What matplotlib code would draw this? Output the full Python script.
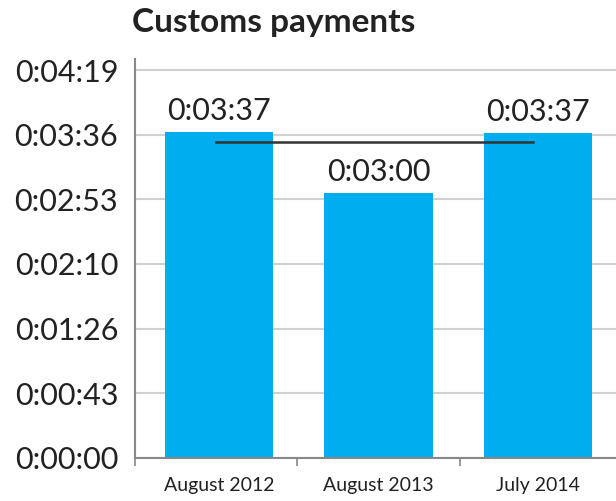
import matplotlib.pyplot as plt
from matplotlib.ticker import FuncFormatter, MultipleLocator

# data (seconds)
categories = ['August 2012', 'August 2013', 'July 2014']
durations = [217.5, 177, 217]
value_labels = ['0:03:37', '0:03:00', '0:03:37']
average_line = 211
title = 'Customs payments'

BAR_COLOR = '#00aeef'
TEXT_COLOR = '#222222'


def to_hms(sec, pos=None):
    s = int(round(sec))
    return '%d:%02d:%02d' % (s // 3600, (s % 3600) // 60, s % 60)


plt.rcParams['font.family'] = ['Lato', 'DejaVu Sans']

fig = plt.figure(figsize=(6.16, 5.01), dpi=100)
ax = fig.add_axes([0.219, 0.086, 0.781, 0.796])

x = list(range(len(categories)))
bars = ax.bar(x, durations, width=0.68, color=BAR_COLOR, zorder=2)
ax.bar_label(bars, labels=value_labels, padding=5, fontsize=22, color=TEXT_COLOR)

ax.plot([x[0] - 0.02, x[-1] - 0.03], [average_line, average_line],
        color='#333333', lw=1.8, zorder=3)

ax.set_xlim(-0.527, 2.49)
ax.set_ylim(0, 266.5)
ax.yaxis.set_major_locator(MultipleLocator(43.2))
ax.yaxis.set_major_formatter(FuncFormatter(to_hms))
ax.grid(axis='y', color='#d0d0d0', lw=1.5, zorder=0)

ax.set_xticks([-0.527, 0.49, 1.51])
ax.set_xticklabels([])
ax.set_xticks(x, minor=True)
ax.set_xticklabels(categories, minor=True, fontsize=14, color=TEXT_COLOR)
ax.tick_params(axis='x', which='major', length=6, width=1.2, color='#888888', direction='out')
ax.tick_params(axis='x', which='minor', length=0, pad=14)
ax.tick_params(axis='y', length=0, pad=12, labelsize=22, labelcolor=TEXT_COLOR)

for side in ['top', 'right']:
    ax.spines[side].set_visible(False)
for side in ['left', 'bottom']:
    ax.spines[side].set_color('#888888')
    ax.spines[side].set_linewidth(1.5)

fig.text(0.214, 0.955, title, fontsize=24, fontweight='bold', color=TEXT_COLOR,
         ha='left', va='center')

fig.savefig('out.png', dpi=100)
